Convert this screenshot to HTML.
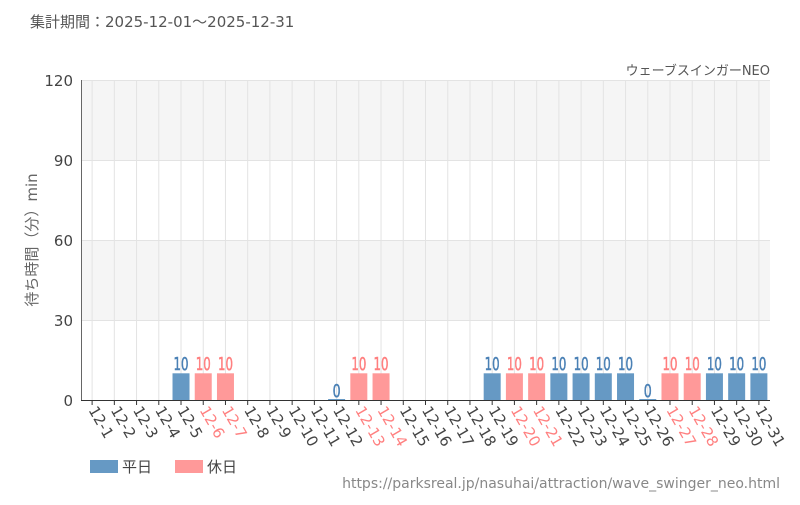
<!DOCTYPE html>
<html><head><meta charset="utf-8"><style>
body{margin:0;background:#fff;}
svg text{font-family:"DejaVu Sans","Noto Sans CJK JP",sans-serif;}
</style></head><body>
<svg id="s" width="800" height="500" xmlns="http://www.w3.org/2000/svg">
<text x="30" y="27" font-size="15" fill="#555">集計期間：2025-12-01～2025-12-31</text>
<text x="770" y="75" font-size="13" fill="#555" text-anchor="end">ウェーブスインガーNEO</text>
<rect x="81" y="80" width="689" height="80" fill="#f5f5f5"/>
<rect x="81" y="240" width="689" height="80" fill="#f5f5f5"/>
<g stroke="#e3e3e3" stroke-width="1">
<line x1="81" y1="80.5" x2="770" y2="80.5"/><line x1="81" y1="160.5" x2="770" y2="160.5"/>
<line x1="81" y1="240.5" x2="770" y2="240.5"/><line x1="81" y1="320.5" x2="770" y2="320.5"/>
</g>
<g id="g"></g>
<line x1="81.5" y1="80" x2="81.5" y2="400" stroke="#666"/>
<line x1="81" y1="400.5" x2="770" y2="400.5" stroke="#333"/>
<g font-size="15" fill="#444" text-anchor="end">
<text x="73" y="86">120</text><text x="73" y="166">90</text><text x="73" y="246">60</text><text x="73" y="326">30</text><text x="73" y="406">0</text>
</g>
<text transform="translate(37,240) rotate(-90)" font-size="15" fill="#666" text-anchor="middle">待ち時間（分）min</text>
<rect x="90" y="460" width="28" height="13" fill="#6699c4"/>
<text x="122" y="472" font-size="15" fill="#444">平日</text>
<rect x="175" y="460" width="28" height="13" fill="#ff9999"/>
<text x="207" y="472" font-size="15" fill="#444">休日</text>
<text x="780" y="488" font-size="14" fill="#888" text-anchor="end">https://parksreal.jp/nasuhai/attraction/wave_swinger_neo.html</text>
</svg>
<script>
var hol=[6,7,13,14,20,21,27,28],wk10=[5,19,22,23,24,25,29,30,31],wk0=[12,26];
var h='',w=689/31;
for(var d=1;d<=31;d++){
 var c=81+(d-0.5)*w,isH=hol.indexOf(d)>=0;
 h+='<line x1="'+c+'" y1="80" x2="'+c+'" y2="400" stroke="#e3e3e3"/>';
 h+='<line x1="'+c+'" y1="400" x2="'+c+'" y2="405" stroke="#333"/>';
 var col=isH?'#ff9999':'#6699c4',tc=isH?'#ff7f7f':'#4a80b5';
 if(isH||wk10.indexOf(d)>=0){
  h+='<rect x="'+(c-8.5)+'" y="373.3" width="17" height="26.7" fill="'+col+'"/>';
  h+='<text x="'+c+'" y="370" font-size="18" fill="'+tc+'" stroke="'+tc+'" stroke-width="0.5" text-anchor="middle" textLength="15" lengthAdjust="spacingAndGlyphs">10</text>';
 } else if(wk0.indexOf(d)>=0){
  h+='<rect x="'+(c-8.5)+'" y="399" width="17" height="1.5" fill="'+col+'"/>';
  h+='<text x="'+c+'" y="397" font-size="18" fill="'+tc+'" stroke="'+tc+'" stroke-width="0.5" text-anchor="middle" textLength="8" lengthAdjust="spacingAndGlyphs">0</text>';
 }
 h+='<text transform="translate('+(c-4)+',410) rotate(60)" font-size="15" fill="'+(isH?'#ff8080':'#444')+'">12-'+d+'</text>';
}
document.getElementById('g').innerHTML=h;
</script>
</body></html>
